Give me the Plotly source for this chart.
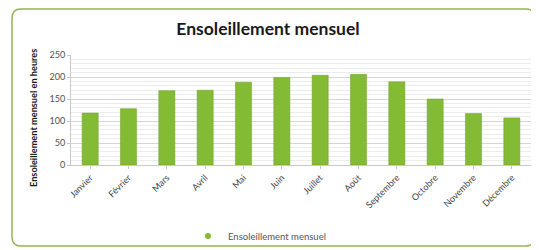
import plotly.graph_objects as go

mois = ["Janvier", "Février", "Mars", "Avril", "Mai", "Juin", "Juillet",
        "Août", "Septembre", "Octobre", "Novembre", "Décembre"]
heures = [118, 128, 169, 170, 188, 199, 204, 206, 189, 150, 117, 107]
y_ticks = [0, 50, 100, 150, 200, 250]

FONT = "Lato, Open Sans, DejaVu Sans, sans-serif"

fig = go.Figure()
fig.add_trace(go.Bar(
    x=mois, y=heures, name="Ensoleillement mensuel",
    marker=dict(color="#84bb34", line=dict(color="#6f9f26", width=0.5)),
    showlegend=False,
))
fig.add_trace(go.Scatter(
    x=[None], y=[None], mode="markers", name="Ensoleillement mensuel",
    marker=dict(color="#84bb34", size=6, symbol="circle"),
    showlegend=True,
))

# page body has an 8px margin: work in screen px, convert to figure px
OFF = 8
W, H = 539 - OFF, 250 - OFF
# plot area in screen px
PL, PR, PT, PB = 71, 531, 55, 165
L, R, T, B = PL - OFF, W - (PR - OFF), PT - OFF, H - (PB - OFF)

def px2paper_x(px):
    return (px - OFF - L) / (W - L - R)

def px2paper_y(py):
    return (H - B - (py - OFF)) / (H - T - B)

x0, x1, y0, y1, r = 12, 535, 9, 246, 9
def P(px, py):
    return f"{px2paper_x(px):.5f},{px2paper_y(py):.5f}"

path = (f"M {P(x0 + r, y0)} L {P(x1 - r, y0)} Q {P(x1, y0)} {P(x1, y0 + r)} "
        f"L {P(x1, y1 - r)} Q {P(x1, y1)} {P(x1 - r, y1)} "
        f"L {P(x0 + r, y1)} Q {P(x0, y1)} {P(x0, y1 - r)} "
        f"L {P(x0, y0 + r)} Q {P(x0, y0)} {P(x0 + r, y0)} Z")

fig.update_layout(
    width=W, height=H,
    margin=dict(l=L, r=R, t=T, b=B, autoexpand=False),
    paper_bgcolor="white", plot_bgcolor="white",
    bargap=0.58,
    font=dict(family=FONT, color="#404040", size=8),
    title=dict(text="<b>Ensoleillement mensuel</b>",
               x=(268 - OFF) / W, xref="container", xanchor="center",
               y=1 - (29 - OFF) / H, yref="container", yanchor="middle",
               automargin=False,
               font=dict(size=17.5, color="#1a1a1a", family=FONT)),
    shapes=[dict(type="path", path=path, xref="paper", yref="paper",
                 line=dict(color="#93b84a", width=1.5), fillcolor="rgba(0,0,0,0)",
                 layer="above")],
    annotations=[dict(text="<b>Ensoleillement mensuel en heures</b>",
                      x=px2paper_x(33), y=px2paper_y(118), xref="paper", yref="paper",
                      textangle=-90, showarrow=False, xanchor="center", yanchor="middle",
                      font=dict(size=9.2, color="#1a1a1a", family=FONT))],
    legend=dict(orientation="h", x=px2paper_x(188), xanchor="left",
                y=px2paper_y(236), yanchor="middle",
                font=dict(size=9.5, color="#555555"),
                itemwidth=30, bgcolor="rgba(0,0,0,0)"),
    xaxis=dict(tickangle=-45, tickfont=dict(size=9, color="#404040"),
               automargin=False,
               showline=True, linecolor="#c8c8c8", ticks="outside",
               ticklen=3, tickcolor="#c8c8c8", showgrid=False),
    yaxis=dict(range=[0, 250], tickvals=y_ticks, automargin=False,
               tickfont=dict(size=9, color="#505050"),
               showgrid=True, gridcolor="#d6d6d6", gridwidth=1,
               minor=dict(dtick=10, showgrid=True, gridcolor="#ececec", gridwidth=1),
               showline=True, linecolor="#c8c8c8", zeroline=False,
               ticks="outside", ticklen=3, tickcolor="#c8c8c8"),
)

fig.write_html("out.html")
